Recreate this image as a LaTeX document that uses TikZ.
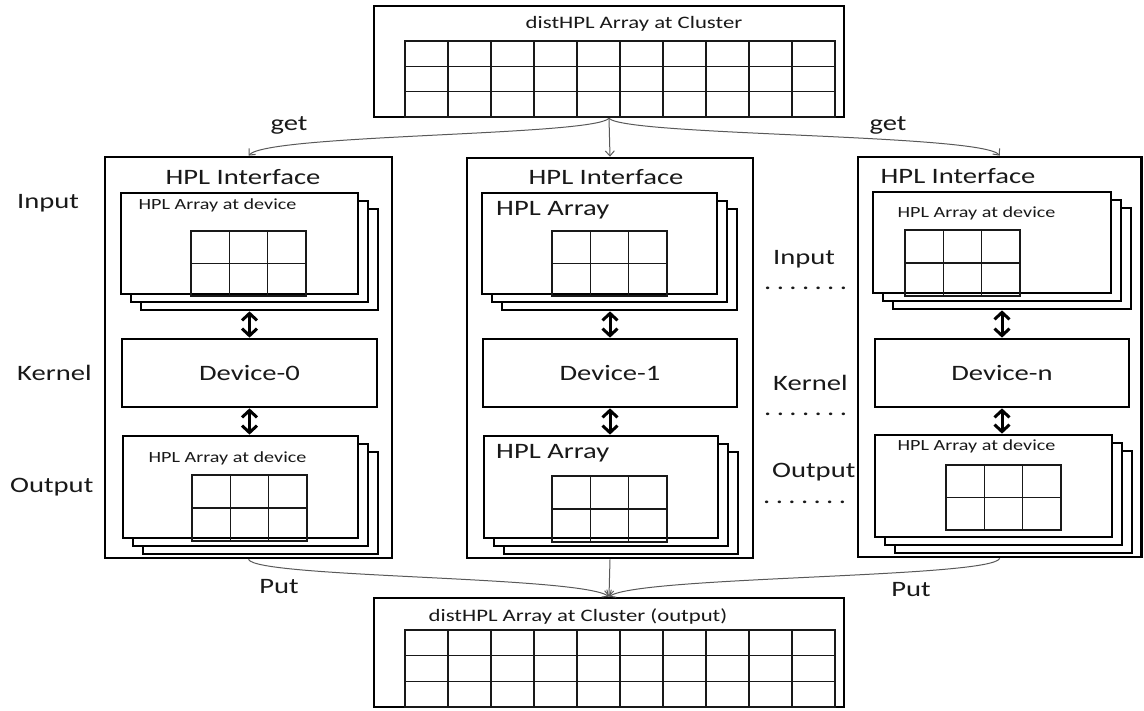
\documentclass[tikz,border=0pt]{standalone}
\usepackage{fontspec}
\setmainfont{Carlito}
\newfontfamily\lblfont[FakeStretch=1.3]{Carlito}
\usetikzlibrary{arrows.meta}

\tikzset{
  frame/.style={draw, line width=2.7pt, fill=white, inner sep=0pt},
  sheet/.style={draw, line width=2.7pt, fill=white, inner sep=0pt},
  cell/.style={line width=1.6pt, draw=black!90},
  big/.style={font=\lblfont\fontsize{22}{26}\selectfont, inner sep=0pt, text=black!90},
  small/.style={font=\lblfont\fontsize{15.5}{18}\selectfont, inner sep=0pt, text=black!90},
  title/.style={font=\lblfont\fontsize{17.5}{21}\selectfont, inner sep=0pt, text=black!90},
  flow/.style={line width=1pt, draw=black!65, -{Straight Barb[length=5pt,width=9pt]}},
  xfer/.style={line width=3pt, {Straight Barb[length=7pt,width=15pt]}-{Straight Barb[length=7pt,width=15pt]}},
}

% rectangle node given by its corners: [style]{name}{x1}{y1}{x2}{y2}
\newcommand\rectnode[6][frame]{%
  \node[#1, minimum width={((#5)-(#3))*1pt}, minimum height={((#6)-(#4))*1pt}]
    (#2) at ({((#3)+(#5))/2},{((#4)+(#6))/2}) {};
}
% three stacked sheets, front one named #1
\newcommand\layered[5]{%
  \rectnode[sheet]{#1c}{#2+20}{#3+16}{#4+20}{#5+16}
  \rectnode[sheet]{#1b}{#2+10}{#3+8}{#4+10}{#5+8}
  \rectnode[sheet]{#1}{#2}{#3}{#4}{#5}
}
% table of cells: x1 y1 x2 y2 columns rows
\newcommand\cellgrid[6]{%
  \draw[cell] (#1,#2) rectangle (#3,#4);
  \pgfmathtruncatemacro\ncm{#5-1}
  \pgfmathtruncatemacro\nrm{#6-1}
  \foreach \k in {1,...,\ncm}{\draw[cell] ({#1+(#3-#1)*\k/#5},#2) -- ({#1+(#3-#1)*\k/#5},#4);}
  \ifnum\nrm>0
  \foreach \k in {1,...,\nrm}{\draw[cell] (#1,{#2+(#4-#2)*\k/#6}) -- (#3,{#2+(#4-#2)*\k/#6});}
  \fi
}
% a row of seven dots
\newcommand\dotrow{.\hspace{5.4pt}.\hspace{5.4pt}.\hspace{5.4pt}.\hspace{5.4pt}.\hspace{5.4pt}.\hspace{5.4pt}.}

\begin{document}
\begin{tikzpicture}[x=1pt,y=-1pt]
\useasboundingbox (0,0) rectangle (1144,711);

% cluster arrays
\rectnode{src}{374}{6}{844}{117}
\cellgrid{405}{41}{835}{117}{10}{3}
\node[title, anchor=base] (srct) at (634,29) {distHPL Array at Cluster};

\rectnode{dst}{374}{598}{844}{707}
\cellgrid{405}{630}{835}{707}{10}{3}
\node[title, anchor=base] (dstt) at (578,621) {distHPL Array at Cluster (output)};

% device panels
\rectnode{p0}{105}{157}{392}{558}
\rectnode{p1}{467}{158}{753}{558}
\rectnode{p2}{858}{157}{1141.5}{557}

\node[big, anchor=base] (h0) at (243,185) {HPL Interface};
\node[big, anchor=base] (h1) at (606,185) {HPL Interface};
\node[big, anchor=base] (h2) at (958,184) {HPL Interface};

% panel 0
\layered{in0}{121}{193}{358}{294}
\node[small, anchor=base] (in0t) at (217.5,210) {HPL Array at device};
\cellgrid{191}{231}{306}{296}{3}{2}
\rectnode{dev0}{122}{339}{377}{407}
\node[big, anchor=base] (dev0t) at (dev0.center |- 0,381) {Device-0};
\layered{out0}{123}{436}{358}{538}
\node[small, anchor=base] (out0t) at (227.5,462) {HPL Array at device};
\cellgrid{192}{475}{307}{541}{3}{2}

% panel 1
\layered{in1}{482}{193}{717}{294}
\node[big, anchor=base west] (in1t) at (496,216) {HPL Array};
\cellgrid{552}{231}{667}{296}{3}{2}
\rectnode{dev1}{483}{339}{737}{407}
\node[big, anchor=base] (dev1t) at (dev1.center |- 0,381) {Device-1};
\layered{out1}{484}{436}{718}{538}
\node[big, anchor=base west] (out1t) at (496,458) {HPL Array};
\cellgrid{552}{476}{667}{542}{3}{2}

% panel n
\layered{in2}{873}{192}{1111}{293}
\node[small, anchor=base] (in2t) at (976.5,218) {HPL Array at device};
\cellgrid{905}{230}{1020}{296}{3}{2}
\rectnode{dev2}{875}{339}{1129}{407}
\node[big, anchor=base] (dev2t) at (dev2.center |- 0,381) {Device-n};
\layered{out2}{875}{435}{1112}{537}
\node[small, anchor=base] (out2t) at (976.5,450) {HPL Array at device};
\cellgrid{946}{465}{1061}{530}{3}{2}

% transfers between arrays and devices
\foreach \i in {0,1,2}{
  \draw[xfer] (dev\i.north |- in\i c.south) -- (dev\i.north);
  \draw[xfer] (dev\i.south) -- (dev\i.south |- out\i.north);
}

% stage labels
\node[big, anchor=base west] (lin)  at (17,209) {Input};
\node[big, anchor=base west] (lker) at (17,381) {Kernel};
\node[big, anchor=base west] (lout) at (10,492) {Output};
\node[big, anchor=base west] (rin)  at (773,265) {Input};
\node[big, anchor=base west] (rker) at (773,391) {Kernel};
\node[big, anchor=base west] (rout) at (772,477) {Output};
\node[big, anchor=base west] (d1) at (764,290) {\dotrow};
\node[big, anchor=base west] (d2) at (764,416) {\dotrow};
\node[big, anchor=base west] (d3) at (763,503) {\dotrow};

% get / put
\draw[flow] (src.south) .. controls (592,136) and (268,134) .. (p0.north);
\draw[flow] (src.south) -- (p1.north);
\draw[flow] (src.south) .. controls (626,136) and (982,134) .. (p2.north);
\node[big, anchor=base] (get0) at (289,131) {get};
\node[big, anchor=base] (get2) at (888,131) {get};

\draw[flow] (p0.south) .. controls (256,578) and (580,576) .. (dst.north);
\draw[flow] (p1.south) -- (dst.north);
\draw[flow] (p2.south) .. controls (992,578) and (640,576) .. (dst.north);
\node[big, anchor=base] (put0) at (279,593) {Put};
\node[big, anchor=base] (put2) at (911,596) {Put};
\end{tikzpicture}
\end{document}
